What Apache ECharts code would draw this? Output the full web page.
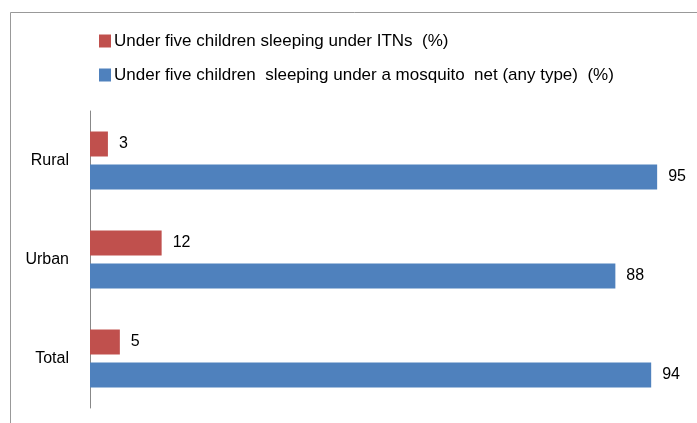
<!DOCTYPE html>
<html>
<head>
<meta charset="utf-8">
<script src="https://cdn.jsdelivr.net/npm/echarts@6/dist/echarts.min.js"></script>
<style>
    html, body { margin: 0; padding: 0; background: #fff; }
    #chart { width: 697px; height: 423px; }
</style>
</head>
<body>
<div id="chart"></div>
<script>
const categories = ['Rural', 'Urban', 'Total']
const itnValues = [3, 12, 5]
const netValues = [95, 88, 94]
const seriesNames = [
    'Under five children sleeping under ITNs  (%)',
    'Under five children  sleeping under a mosquito  net (any type)  (%)'
]

const font = '"Liberation Sans", Arial, sans-serif'
const mChart = echarts.init(document.getElementById('chart'))

const option = {
    backgroundColor: '#fff',
    animation: false,
    // frame around the plot, open on right and bottom
    graphic: [{
        type: 'rect',
        shape: { x: 10.5, y: 12.5, width: 720, height: 440 },
        style: { fill: 'none', stroke: '#999', lineWidth: 1 }
    }],
    legend: {
        orient: 'vertical',
        left: 99,
        top: 31,
        padding: 0,
        itemWidth: 12,
        itemHeight: 13,
        itemGap: 14,
        icon: 'rect',
        textStyle: { fontFamily: font, fontSize: 17, lineHeight: 20, color: '#000', padding: [0, 0, 0, -2] },
        data: seriesNames
    },
    grid: {
        top: 111,
        left: 90,
        right: 10,
        bottom: 15
    },
    xAxis: {
        type: 'value',
        min: 0,
        max: 100,
        show: false
    },
    yAxis: {
        type: 'category',
        data: categories,
        inverse: true,
        axisTick: { show: false },
        axisLine: { lineStyle: { color: '#888', width: 1 } },
        axisLabel: { fontFamily: font, fontSize: 16, color: '#000', margin: 21 }
    },
    series: [
        {
            name: seriesNames[0],
            type: 'bar',
            data: itnValues,
            barWidth: 25,
            barGap: '32%',
            itemStyle: { color: '#C0504D' },
            label: { show: true, position: 'right', distance: 11, fontFamily: font, fontSize: 16, color: '#000' }
        },
        {
            name: seriesNames[1],
            type: 'bar',
            data: netValues,
            barWidth: 25,
            barGap: '32%',
            itemStyle: { color: '#4F81BD' },
            label: { show: true, position: 'right', distance: 11, fontFamily: font, fontSize: 16, color: '#000' }
        }
    ]
}
mChart.setOption(option)
</script>
</body>
</html>
